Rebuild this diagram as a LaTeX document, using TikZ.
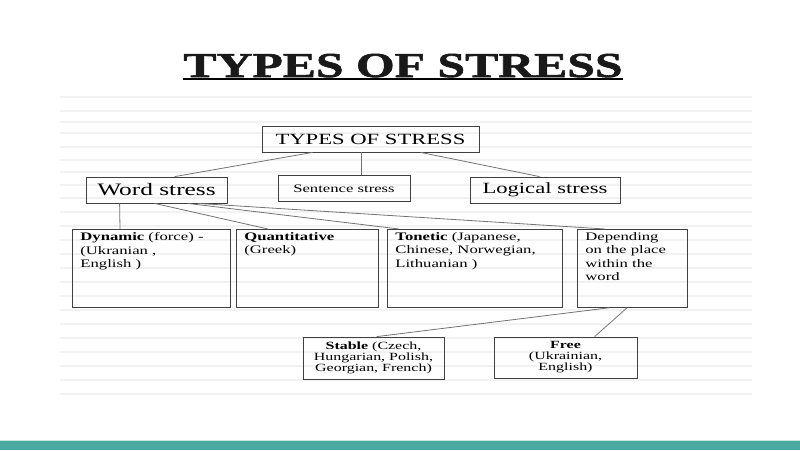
\documentclass[tikz,border=0pt]{standalone}
\usepackage{fontspec}
\setmainfont{Liberation Serif}[FakeStretch=1.45]
\newfontfamily\titlefont{Liberation Serif Bold}[FakeStretch=1.42, FakeBold=1.8]
\usepackage{tikz}
\usetikzlibrary{positioning}

\definecolor{barteal}{RGB}{74,170,160}
\definecolor{stripe}{RGB}{242,242,242}

% top-aligned text inside a fixed box
\newcommand{\boxtext}[3]{\parbox[t][#2][t]{#1}{\raggedright #3}}

\begin{document}
\begin{tikzpicture}[x=1pt, y=-1pt,
                box/.style={draw=black!75, line width=0.8pt, inner sep=0pt, align=center},
                leaf/.style={draw=black!75, line width=0.8pt, anchor=north west,
                             inner xsep=8pt, inner ysep=3pt,
                             font=\fontsize{11.5}{13.5}\selectfont},
                lowbox/.style={box, font=\fontsize{11}{11}\selectfont},
                branch/.style={draw=black!55, line width=0.8pt}]

                \useasboundingbox (0,0) rectangle (800,450);

                % faint stripes and bottom bar
                \foreach \y in {97,111,122,133,147,160,172,185,198,212,226,240,254,268,282,296,310,324,338,352,366,380,394}
                    \draw[stripe, line width=1.2pt] (60,\y) -- (752,\y);
                \fill[barteal] (0,441) rectangle (800,450);
                \draw[barteal!30, line width=1pt] (0,440) -- (800,440);

                % Title
                \node[font=\titlefont\fontsize{35}{40}\selectfont, text=black!90, inner sep=0pt, anchor=base] (title) at (403,77) {TYPES OF STRESS};
                \draw[line width=1.6pt] ([yshift=-2pt]title.base west) -- ([yshift=-2pt]title.base east);

                % Upper levels
                \node[box, minimum width=217, minimum height=26, font=\fontsize{15.6}{18}\selectfont] (root) at (370.5,139) {TYPES OF STRESS};
                \node[box, minimum width=141, minimum height=26, font=\fontsize{17.5}{20}\selectfont] (word) at (156.5,190) {Word stress};
                \node[box, minimum width=132, minimum height=26, font=\fontsize{11.5}{13}\selectfont] (sentence) at (344,188.5) {Sentence stress};
                \node[box, minimum width=150, minimum height=26, font=\fontsize{15.6}{18}\selectfont] (logical) at (545,190) {Logical stress};

                % Kinds of word stress
                \node[leaf] (dyn) at (72,229) {\boxtext{142pt}{72pt}{\textbf{Dynamic} (force) -\\(Ukranian ,\\English )}};
                \node[leaf] (quant) at (236,229) {\boxtext{126pt}{72pt}{\textbf{Quantitative}\\(Greek)}};
                \node[leaf] (tone) at (387,229) {\boxtext{159pt}{72pt}{\textbf{Tonetic} (Japanese,\\Chinese, Norwegian,\\Lithuanian )}};
                \node[leaf] (depend) at (577,229) {\boxtext{94pt}{72pt}{Depending\\on the place\\within the\\word}};

                % Place of stress
                \node[lowbox, minimum width=141, minimum height=42] (stable) at (373.5,358) {\textbf{Stable} (Czech,\\Hungarian, Polish,\\Georgian, French)};
                \node[lowbox, minimum width=143, minimum height=41] (free) at (565.5,357.5) {\textbf{Free}\\(Ukrainian,\\English)};

                % Connectors
                \draw[branch] ([xshift=51pt]root.south west) -- ([xshift=89pt]word.north west);
                \draw[branch] ([xshift=100pt]root.south west) -- ([xshift=84pt]sentence.north west);
                \draw[branch] ([xshift=159pt]root.south west) -- ([xshift=70pt]logical.north west);

                \draw[branch] ([xshift=34pt]word.south west) -- ([xshift=48pt]dyn.north west);
                \draw[branch] ([xshift=69pt]word.south west) -- ([xshift=32pt]quant.north west);
                \draw[branch] ([xshift=102pt]word.south west) -- ([xshift=12pt]tone.north west);
                \draw[branch] ([xshift=112pt]word.south west) -- ([xshift=28pt]depend.north west);

                \draw[branch] ([xshift=32pt]depend.south west) -- ([xshift=74pt]stable.north west);
                \draw[branch] ([xshift=50pt]depend.south west) -- ([xshift=101pt]free.north west);
            \end{tikzpicture}
\end{document}
